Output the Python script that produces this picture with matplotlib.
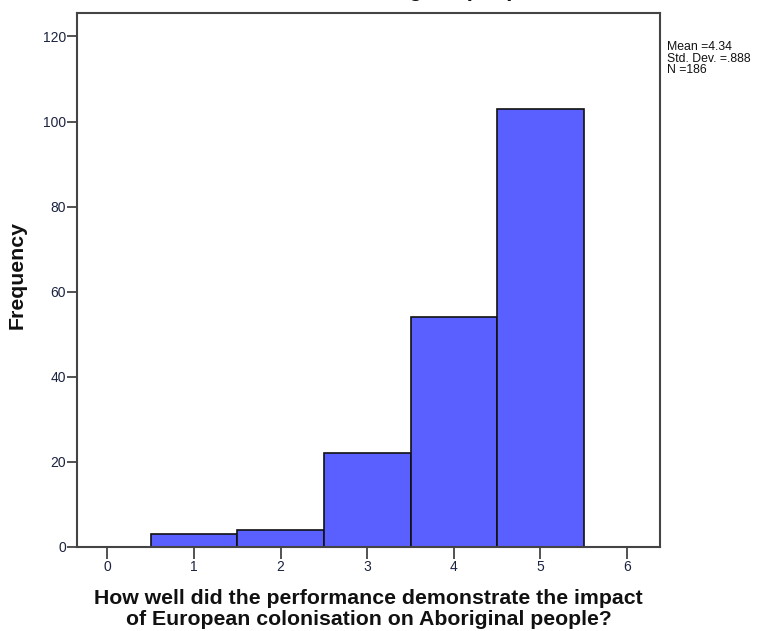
import numpy as np
import matplotlib
matplotlib.use("Agg")
import matplotlib.pyplot as plt

plt.rcParams['font.family'] = ['Liberation Sans', 'DejaVu Sans']

# histogram of ratings (bins centred on the integer scores)
scores = [1, 2, 3, 4, 5]
counts = [3, 4, 22, 54, 103]
x_ticks = [0, 1, 2, 3, 4, 5, 6]
y_ticks = [0, 20, 40, 60, 80, 100, 120]
stats_lines = ["Mean =4.34", "Std. Dev. =.888", "N =186"]

question = ("How well did the performance demonstrate the impact\n"
            "of European colonisation on Aboriginal people?")

def main():
    fig = plt.figure(figsize=(7.79, 6.31), dpi=100)
    ax = fig.add_axes([77 / 779, 1 - 547 / 631, (660 - 77) / 779, (547 - 13) / 631])

    ax.bar(scores, counts, width=1.0, color="#5a5fff", edgecolor="#111111",
           linewidth=1.2, zorder=2)

    ax.set_xlim(-0.35, 6.38)
    ax.set_ylim(0, 125.5)
    ax.set_xticks(x_ticks)
    ax.set_yticks(y_ticks)

    tick_col = "#1c2340"
    ax.tick_params(axis="x", direction="out", length=8.5, width=1.3,
                   colors="#444444", labelcolor=tick_col, labelsize=10, pad=1)
    ax.tick_params(axis="y", direction="out", length=7, width=1.3,
                   colors="#444444", labelcolor=tick_col, labelsize=10, pad=1)
    for s in ax.spines.values():
        s.set_color("#444444")
        s.set_linewidth(1.5)

    ax.set_ylabel("Frequency", fontsize=15.3, fontweight="bold", color="#111111")
    ax.yaxis.set_label_coords(-0.0858, 0.509)
    ax.set_xlabel(question, fontsize=15.3, fontweight="bold", color="#111111",
                  linespacing=1.1, labelpad=11)

    fig.text(667 / 779, 1 - 41 / 631, "\n".join(stats_lines), fontsize=8.8,
             color="#111111", va="top", ha="left", linespacing=0.95)

    # chart title, cut off by the top edge in the original
    fig.text(351 / 779, 1 + 4.2 / 631, "Aboriginal people", fontsize=16,
             fontweight="bold", ha="left", va="baseline", color="#111111")

    fig.savefig("out.png", dpi=100)

if __name__ == "__main__":
    main()
